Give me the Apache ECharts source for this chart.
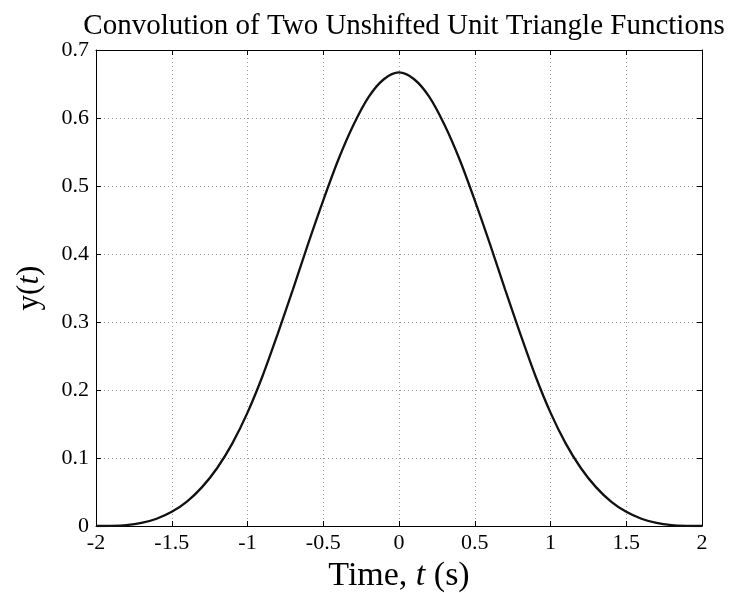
<!DOCTYPE html>
<html>
<head>
<meta charset="utf-8">
<style>
  html, body { margin: 0; padding: 0; background: #fff; }
  #chart { width: 731px; height: 593px; }
</style>
<script src="https://cdn.jsdelivr.net/npm/echarts@6/dist/echarts.min.js"></script>
</head>
<body>
<div id="chart"></div>
<script>
// Time samples (s) and the convolution output y(t)
const timeValues = [
  -2.0, -1.9, -1.8, -1.7, -1.6, -1.5, -1.4, -1.3, -1.2, -1.1,
  -1.0, -0.9, -0.8, -0.7, -0.6, -0.5, -0.4, -0.3, -0.2, -0.1,
   0.0,  0.1,  0.2,  0.3,  0.4,  0.5,  0.6,  0.7,  0.8,  0.9,
   1.0,  1.1,  1.2,  1.3,  1.4,  1.5,  1.6,  1.7,  1.8,  1.9, 2.0
];
const yValues = [
  0.000, 0.0002, 0.0013, 0.0045, 0.0107, 0.0208, 0.036, 0.0572, 0.0853, 0.1215,
  0.1667, 0.221, 0.283, 0.348, 0.415, 0.479, 0.539, 0.590, 0.631, 0.657,
  0.667, 0.657, 0.631, 0.590, 0.539, 0.479, 0.415, 0.348, 0.283, 0.221,
  0.1667, 0.1215, 0.0853, 0.0572, 0.036, 0.0208, 0.0107, 0.0045, 0.0013, 0.0002, 0.000
];
const xTickLabels = ['-2', '-1.5', '-1', '-0.5', '0', '0.5', '1', '1.5', '2'];
const yTickLabels = ['0', '0.1', '0.2', '0.3', '0.4', '0.5', '0.6', '0.7'];

const serif = '"Liberation Serif", "Times New Roman", serif';
const points = timeValues.map((t, i) => [t, yValues[i]]);

const chart = echarts.init(document.getElementById('chart'), null, { renderer: 'canvas' });

// Mirrored axes on the top and right close the box and repeat the ticks
const boxAxis = {
  axisLine: { show: true, onZero: false, lineStyle: { color: '#000', width: 1 } },
  axisTick: { show: true, inside: true, length: 5, lineStyle: { color: '#000' } },
  axisLabel: { show: false },
  splitLine: { show: false }
};

chart.setOption({
  animation: false,
  backgroundColor: '#fff',
  title: {
    text: 'Convolution of Two Unshifted Unit Triangle Functions',
    left: 399,
    textAlign: 'center',
    top: 7,
    textStyle: { fontFamily: serif, fontSize: 29, fontWeight: 'normal', color: '#000' }
  },
  grid: { left: 96, right: 29, top: 50, bottom: 67, outerBoundsMode: 'none', containLabel: false },
  xAxis: [
    {
      type: 'value', min: -2, max: 2, interval: 0.5,
      name: '{n|Time, }{i|t}{n| (s)}',
      nameLocation: 'middle', nameGap: 33, nameMoveOverlap: false,
      nameTextStyle: {
        rich: {
          n: { fontFamily: serif, fontSize: 34, color: '#000' },
          i: { fontFamily: serif, fontSize: 34, fontStyle: 'italic', color: '#000' }
        }
      },
      axisLine: { show: true, onZero: false, lineStyle: { color: '#000', width: 1 } },
      axisTick: { show: true, inside: true, length: 5, lineStyle: { color: '#000' } },
      axisLabel: {
        margin: 6,
        fontFamily: serif, fontSize: 22, color: '#000',
        formatter: (v) => xTickLabels[Math.round((v + 2) / 0.5)]
      },
      splitLine: { show: true, lineStyle: { color: '#9a9a9a', type: [1, 3], width: 1 } }
    },
    Object.assign({ type: 'value', position: 'top', min: -2, max: 2, interval: 0.5 }, boxAxis)
  ],
  yAxis: [
    {
      type: 'value', min: 0, max: 0.7, interval: 0.1,
      name: '{n|y(}{i|t}{n|)}',
      nameLocation: 'middle', nameGap: 51, nameRotate: 90, nameMoveOverlap: false,
      nameTextStyle: {
        rich: {
          n: { fontFamily: serif, fontSize: 31, color: '#000' },
          i: { fontFamily: serif, fontSize: 31, fontStyle: 'italic', color: '#000' }
        }
      },
      axisLine: { show: true, onZero: false, lineStyle: { color: '#000', width: 1 } },
      axisTick: { show: true, inside: true, length: 5, lineStyle: { color: '#000' } },
      axisLabel: {
        margin: 7,
        fontFamily: serif, fontSize: 22, color: '#000',
        formatter: (v) => yTickLabels[Math.round(v / 0.1)]
      },
      splitLine: { show: true, lineStyle: { color: '#9a9a9a', type: [1, 3], width: 1 } }
    },
    Object.assign({ type: 'value', position: 'right', min: 0, max: 0.7, interval: 0.1 }, boxAxis)
  ],
  series: [
    {
      type: 'line',
      xAxisIndex: 0, yAxisIndex: 0,
      data: points,
      smooth: 0.3,
      showSymbol: false,
      lineStyle: { color: '#111', width: 2.3 },
      z: 5
    }
  ]
});
</script>
</body>
</html>
